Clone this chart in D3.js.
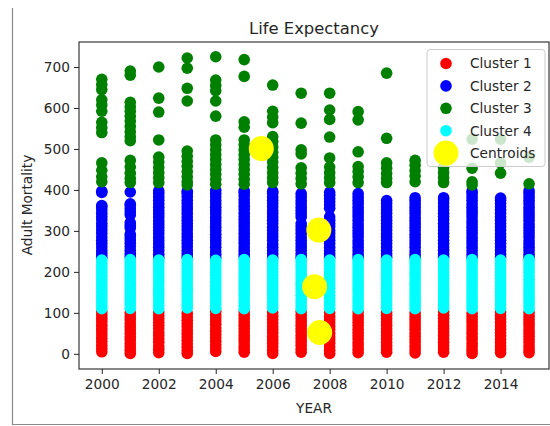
<!DOCTYPE html>
<html>
<head>
<meta charset="utf-8">
<script src="https://cdn.jsdelivr.net/npm/d3@7/dist/d3.min.js"></script>
<style>
body { margin: 0; background: #fff; }
svg { display: block; font-family: "DejaVu Sans", sans-serif; }
</style>
</head>
<body>
<svg id="chart" width="550" height="426"></svg>
<script>
const years = [2000, 2001, 2002, 2003, 2004, 2005, 2006, 2007,
	       2008, 2009, 2010, 2011, 2012, 2013, 2014, 2015];

// Adult Mortality per year, one list per cluster
const cluster1 = [
    [5, 13, 21, 30, 38, 46, 54, 62, 70, 79, 87, 95, 103],
    [1, 9, 17, 25, 34, 42, 50, 58, 66, 74, 83, 91, 100],
    [3, 11, 19, 28, 36, 44, 52, 61, 69, 77, 85, 93, 102],
    [1, 8, 16, 24, 33, 41, 49, 57, 66, 74, 82, 90, 99],
    [6, 14, 22, 31, 39, 47, 55, 63, 72, 80, 88, 95, 104],
    [4, 12, 20, 29, 37, 45, 53, 62, 70, 78, 86, 94, 102],
    [1, 9, 18, 26, 34, 42, 51, 59, 67, 75, 84, 92, 101],
    [4, 12, 21, 29, 37, 45, 54, 62, 70, 78, 86, 94, 103],
    [1, 9, 17, 26, 34, 42, 50, 59, 67, 75, 83, 91, 100],
    [3, 11, 19, 27, 36, 44, 52, 60, 69, 77, 85, 93, 102],
    [4, 12, 20, 28, 37, 45, 53, 61, 70, 78, 86, 94, 101],
    [2, 10, 18, 27, 35, 43, 51, 60, 68, 76, 84, 92, 100],
    [4, 12, 20, 28, 36, 45, 53, 61, 69, 78, 86, 94, 103],
    [1, 9, 17, 25, 34, 42, 50, 58, 67, 75, 83, 91, 99],
    [3, 11, 19, 27, 35, 44, 52, 60, 68, 77, 85, 93, 102],
    [3, 10, 18, 27, 35, 43, 51, 59, 68, 76, 84, 92, 101]
];

const cluster2 = [
    [236, 244, 252, 261, 269, 277, 285, 294, 302, 310, 318, 327, 335, 343, 351, 359, 362, 394, 397],
    [237, 245, 253, 262, 270, 278, 286, 292, 307, 313, 320, 339, 346, 354, 362, 366, 395],
    [235, 243, 252, 260, 268, 276, 284, 293, 301, 309, 317, 325, 334, 342, 350, 358, 366, 375, 383, 391, 398],
    [236, 244, 252, 261, 269, 277, 285, 293, 302, 310, 318, 326, 334, 343, 351, 359, 367, 375, 384, 392, 397],
    [235, 243, 251, 260, 268, 276, 284, 292, 301, 309, 317, 325, 333, 342, 350, 358, 366, 374, 383, 391, 399],
    [237, 245, 253, 261, 270, 278, 286, 294, 302, 311, 319, 327, 335, 343, 352, 360, 368, 376, 385, 393, 398],
    [235, 244, 252, 260, 268, 277, 285, 293, 301, 309, 318, 326, 334, 342, 350, 359, 367, 375, 383, 392, 397],
    [236, 244, 253, 261, 269, 277, 285, 294, 302, 310, 318, 334, 342, 350, 358, 366, 374, 383, 391],
    [236, 244, 252, 260, 269, 277, 285, 293, 301, 310, 318, 326, 334, 355, 363, 371, 379, 387, 394],
    [235, 243, 252, 260, 268, 276, 285, 293, 301, 309, 317, 326, 334, 342, 350, 358, 367, 375, 383, 391],
    [236, 244, 252, 261, 269, 277, 285, 293, 302, 310, 318, 326, 334, 343, 351, 359, 367, 374],
    [235, 243, 251, 260, 268, 276, 284, 292, 301, 309, 317, 325, 333, 342, 350, 358, 366, 374, 381],
    [236, 244, 253, 261, 269, 277, 286, 294, 302, 310, 318, 327, 335, 343, 351, 359, 368, 376, 381],
    [235, 243, 252, 260, 268, 276, 284, 293, 301, 309, 317, 325, 334, 342, 350, 358, 366, 375, 383, 391, 397],
    [236, 244, 252, 261, 269, 277, 285, 293, 302, 310, 318, 326, 334, 343, 351, 359, 367, 375, 380],
    [235, 243, 252, 260, 268, 276, 285, 293, 301, 309, 317, 326, 334, 342, 350, 358, 367, 375, 383, 391, 398]
];

const cluster3 = [
    [670, 657, 645, 620, 607, 592, 565, 552, 540, 466, 448, 432, 420],
    [690, 680, 614, 603, 592, 580, 568, 555, 542, 530, 520, 472, 456, 441, 428, 418],
    [700, 624, 590, 522, 480, 468, 455, 442, 430, 418],
    [722, 697, 648, 617, 495, 482, 470, 458, 445, 432, 420, 412],
    [725, 668, 655, 642, 617, 580, 522, 510, 498, 486, 474, 462, 450, 438, 426, 414],
    [718, 677, 566, 553, 522, 510, 498, 486, 474, 462, 450, 438, 426, 414],
    [656, 592, 578, 564, 530, 518, 505, 492, 480, 468, 455, 442, 430, 418],
    [636, 563, 498, 488, 454, 441, 428, 415],
    [636, 595, 572, 529, 478, 456, 442, 430, 418],
    [591, 571, 493, 457, 445, 432, 418],
    [685, 526, 466, 453, 440, 428, 418],
    [472, 460, 447, 434, 420],
    [455, 442, 430, 418],
    [524, 453, 420, 412],
    [524, 466, 441],
    [480, 415]
];

const cluster4 = [
    [110, 118, 126, 134, 142, 150, 158, 166, 174, 182, 190, 198, 206, 214, 222, 229],
    [111, 119, 127, 135, 143, 151, 159, 167, 175, 183, 191, 199, 207, 215, 223, 230],
    [110, 118, 127, 135, 143, 151, 159, 168, 176, 184, 192, 200, 208, 216, 224, 229],
    [112, 120, 128, 136, 144, 152, 160, 168, 176, 184, 192, 200, 208, 216, 224, 230],
    [111, 119, 126, 134, 142, 150, 158, 166, 175, 183, 191, 199, 207, 215, 222, 228],
    [110, 118, 126, 135, 143, 151, 159, 167, 175, 183, 191, 199, 207, 215, 223, 230],
    [112, 120, 127, 135, 143, 151, 159, 167, 176, 184, 192, 200, 208, 216, 224, 229],
    [110, 118, 126, 134, 143, 151, 159, 167, 175, 183, 192, 200, 208, 216, 224, 230],
    [111, 119, 127, 135, 143, 151, 160, 168, 176, 184, 192, 200, 208, 216, 223, 229],
    [110, 118, 126, 134, 142, 151, 159, 167, 175, 183, 191, 199, 207, 215, 223, 230],
    [111, 119, 127, 135, 143, 151, 159, 167, 175, 184, 192, 200, 208, 216, 224, 229],
    [110, 118, 126, 134, 142, 150, 158, 167, 175, 183, 191, 199, 207, 215, 223, 230],
    [112, 120, 128, 136, 144, 152, 160, 168, 176, 184, 192, 200, 208, 216, 224, 229],
    [110, 118, 126, 134, 142, 150, 158, 166, 174, 183, 191, 199, 207, 215, 223, 230],
    [111, 119, 127, 135, 143, 151, 159, 167, 175, 183, 191, 199, 208, 216, 224, 229],
    [110, 118, 126, 134, 142, 150, 158, 166, 174, 182, 190, 199, 207, 215, 223, 230]
];

const centroidYears = [2005.6, 2007.62, 2007.47, 2007.65];
const centroidValues = [501, 302, 164, 52];

const xTicks = [2000, 2002, 2004, 2006, 2008, 2010, 2012, 2014];
const yTicks = [0, 100, 200, 300, 400, 500, 600, 700];

const legendLabels = ["Cluster 1", "Cluster 2", "Cluster 3", "Cluster 4", "Centroids"];
const legendColors = ["#ff0000", "#0000ff", "#008000", "#00ffff", "#ffff00"];

window.addEventListener("DOMContentLoaded", setup);

function setup() {
    const svg = d3.select("#chart");

    // screenshot frame
    svg.append("path")
	.attr("d", "M12.5,8 V424.5 H550")
	.attr("fill", "none")
	.attr("stroke", "#8a8a8a")
	.attr("stroke-width", 1.2);

    const x = d3.scaleLinear().domain([1999.2, 2015.7]).range([79, 549]);
    const y = d3.scaleLinear().domain([-37, 761]).range([369, 42]);

    drawPoints(svg, x, y);
    drawAxes(svg, x, y);
    drawLegend(svg);
}

function toPoints(cluster) {
    let out = [];
    cluster.forEach(function(vals, i) {
	vals.forEach((v) => out.push({year: years[i], value: v}));
    });
    return out;
}

function drawPoints(svg, x, y) {
    const r = 5.8;
    const order = [cluster1, cluster2, cluster3, cluster4];
    order.forEach(function(cluster, k) {
	svg.append("g")
	    .selectAll("circle")
	    .data(toPoints(cluster))
	    .enter().append("circle")
	    .attr("cx", (d) => x(d.year))
	    .attr("cy", (d) => y(d.value))
	    .attr("r", r)
	    .attr("fill", legendColors[k]);
    });

    svg.append("g")
	.selectAll("circle")
	.data(centroidYears.map((yr, i) => ({year: yr, value: centroidValues[i]})))
	.enter().append("circle")
	.attr("cx", (d) => x(d.year))
	.attr("cy", (d) => y(d.value))
	.attr("r", 12.5)
	.attr("fill", legendColors[4]);
}

function drawAxes(svg, x, y) {
    const xAxis = svg.append("g")
	  .attr("transform", "translate(0,369)")
	  .call(d3.axisBottom(x).tickValues(xTicks).tickFormat(d3.format("d"))
		.tickSize(5).tickPadding(5));
    const yAxis = svg.append("g")
	  .attr("transform", "translate(79,0)")
	  .call(d3.axisLeft(y).tickValues(yTicks).tickSize(5).tickPadding(4));

    [xAxis, yAxis].forEach(function(ax) {
	ax.select(".domain").remove();
	ax.selectAll("text")
	    .attr("fill", "#262626")
	    .style("font-size", "13.7px")
	    .style("font-family", "DejaVu Sans");
	ax.selectAll("line").attr("stroke", "#262626");
    });

    // spines
    svg.append("rect")
	.attr("x", 79).attr("y", 42)
	.attr("width", 470).attr("height", 327)
	.attr("fill", "none")
	.attr("stroke", "#262626")
	.attr("stroke-width", 1.1);

    svg.append("text")
	.attr("x", 314).attr("y", 34)
	.attr("text-anchor", "middle")
	.attr("fill", "#262626")
	.style("font-size", "16.4px")
	.text("Life Expectancy");

    svg.append("text")
	.attr("x", 314).attr("y", 413)
	.attr("text-anchor", "middle")
	.attr("fill", "#262626")
	.style("font-size", "13.7px")
	.text("YEAR");

    svg.append("text")
	.attr("transform", "translate(32,205) rotate(-90)")
	.attr("text-anchor", "middle")
	.attr("fill", "#262626")
	.style("font-size", "13.7px")
	.text("Adult Mortality");
}

function drawLegend(svg) {
    const g = svg.append("g");
    g.append("rect")
	.attr("x", 427).attr("y", 49.5)
	.attr("width", 118).attr("height", 117)
	.attr("rx", 3)
	.attr("fill", "#fff")
	.attr("fill-opacity", 0.8)
	.attr("stroke", "#cccccc");

    const rows = g.selectAll(".entry")
	  .data(legendLabels)
	  .enter().append("g")
	  .attr("class", "entry")
	  .attr("transform", (d, i) => `translate(446,${63.5 + i * 22.4})`);

    rows.append("circle")
	.attr("r", (d, i) => i == 4 ? 12.5 : 5.8)
	.attr("fill", (d, i) => legendColors[i]);

    rows.append("text")
	.attr("x", 24)
	.attr("dy", "0.36em")
	.attr("fill", "#262626")
	.style("font-size", "13.7px")
	.text((d) => d);
}
</script>
</body>
</html>
